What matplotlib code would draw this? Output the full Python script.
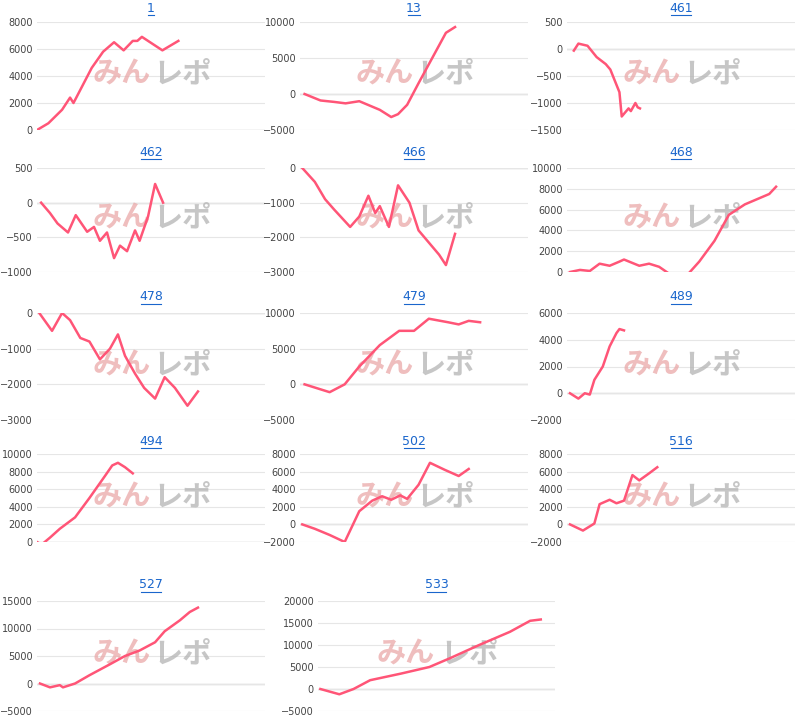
import matplotlib.pyplot as plt
from matplotlib.lines import Line2D

plt.rcParams['font.family'] = ['DejaVu Sans']

W, H = 800, 722

# (title, x as % of plot width, profit values, y ticks)
names = ["1", "13", "461", "462", "466", "468", "478", "479", "489", "494", "502", "516", "527", "533"]

x_1 = [0, 5, 11, 14.5, 16, 20, 24, 29, 33.8, 38, 42, 44, 46, 55, 62]
y_1 = [0, 500, 1500, 2400, 2000, 3300, 4600, 5800, 6500, 5900, 6600, 6600, 6900, 5900, 6600]
x_13 = [2, 9, 15, 20, 26, 35, 40, 43, 47, 52, 58, 64, 68]
y_13 = [0, -900, -1100, -1300, -1000, -2200, -3200, -2800, -1500, 1500, 5000, 8500, 9300]
x_461 = [3, 5, 7, 9, 13, 17, 19, 23, 24, 27, 28, 30, 31, 32]
y_461 = [-30, 100, 80, 60, -150, -280, -380, -800, -1250, -1100, -1150, -1000, -1080, -1100]
x_462 = [1.8, 5.7, 9, 13.6, 17, 22, 25, 27.6, 30.7, 33.8, 36.4, 39.5, 43, 45, 48.7, 51.8, 55.3]
y_462 = [0, -150, -300, -430, -180, -420, -350, -550, -430, -800, -620, -700, -400, -550, -200, 270, 0]
x_466 = [1, 6.5, 11, 15, 22, 26, 30, 33, 35, 39, 43, 48, 52, 61, 64, 68]
y_466 = [0, -400, -900, -1200, -1700, -1400, -800, -1300, -1100, -1700, -500, -1000, -1800, -2500, -2800, -1900]
x_468 = [1.3, 5.7, 10, 14.3, 18.7, 23, 25, 31.7, 36, 40.4, 49, 53.5, 58, 64.7, 71, 78, 88.7, 91.7]
y_468 = [0, 200, 100, 800, 600, 1000, 1200, 600, 800, 500, -800, -100, 1000, 3000, 5500, 6500, 7500, 8200]
x_478 = [1, 6.6, 11, 14.5, 19, 23, 27.6, 32, 35.5, 38.6, 43, 47, 51.8, 56, 60.5, 62.7, 66, 70.6]
y_478 = [0, -500, 0, -200, -700, -800, -1300, -1000, -600, -1200, -1700, -2100, -2400, -1800, -2100, -2300, -2600, -2200]
x_479 = [2, 13, 19.6, 26, 35, 43.5, 50, 56.5, 65, 69.6, 74, 79]
y_479 = [0, -1100, 0, 2500, 5500, 7500, 7500, 9200, 8700, 8400, 8900, 8700]
x_489 = [1.3, 5, 7.8, 10, 12, 15.7, 18.7, 21.7, 23, 25]
y_489 = [0, -400, 0, -100, 1000, 2000, 3500, 4500, 4800, 4700]
x_494 = [0, 2, 5.7, 10, 16.7, 23, 29.8, 33, 35.5, 38.6, 42]
y_494 = [0, -300, 500, 1500, 2800, 5000, 7500, 8700, 9000, 8500, 7800]
x_502 = [1, 6.5, 13, 19.6, 26, 31.7, 36, 40, 44, 47, 52, 57, 63.5, 69.6, 74]
y_502 = [0, -500, -1200, -2000, 1500, 2700, 3200, 2800, 3300, 2900, 4500, 7000, 6200, 5500, 6300]
x_516 = [1.3, 7, 12, 14.3, 18.7, 21.7, 25, 28.7, 31.7, 36, 39.6]
y_516 = [0, -700, 100, 2300, 2800, 2400, 2700, 5600, 5000, 5800, 6500]
x_527 = [1.3, 5.7, 10, 11.4, 16.7, 23, 32, 38.6, 45, 51.8, 56, 62.7, 67, 70.6]
y_527 = [0, -700, -300, -700, 0, 1500, 3500, 5000, 6000, 7500, 9500, 11500, 13000, 13800]
x_533 = [1, 9, 15, 22, 35, 47, 55.7, 68, 81, 89.5, 94]
y_533 = [0, -1200, 0, 2000, 3500, 5000, 7000, 10000, 13000, 15500, 15800]

xs = [x_1, x_13, x_461, x_462, x_466, x_468, x_478, x_479, x_489, x_494, x_502, x_516, x_527, x_533]
ys = [y_1, y_13, y_461, y_462, y_466, y_468, y_478, y_479, y_489, y_494, y_502, y_516, y_527, y_533]
yticks = [
    [0, 2000, 4000, 6000, 8000], [-5000, 0, 5000, 10000], [-1500, -1000, -500, 0, 500],
    [-1000, -500, 0, 500], [-3000, -2000, -1000, 0], [0, 2000, 4000, 6000, 8000, 10000],
    [-3000, -2000, -1000, 0], [-5000, 0, 5000, 10000], [-2000, 0, 2000, 4000, 6000],
    [0, 2000, 4000, 6000, 8000, 10000], [-2000, 0, 2000, 4000, 6000, 8000], [-2000, 0, 2000, 4000, 6000, 8000],
    [-5000, 0, 5000, 10000, 15000], [-5000, 0, 5000, 10000, 15000, 20000],
]

row_top = [22, 168, 313, 454, 601]
row_h = [108, 104, 107, 88, 110]
title_y = [8, 152, 297, 441, 585]
col_left = [37, 300, 567]
col_w = 228

fig = plt.figure(figsize=(W / 100, H / 100), dpi=100)

for i, name in enumerate(names):
    r, c = divmod(i, 3)
    left, w = col_left[c], col_w
    if r == 4 and c == 1:
        left, w = 318, 237
    top = row_top[r]
    h = row_h[r]
    ax = fig.add_axes([left / W, 1 - (top + h) / H, w / W, h / H])
    ax.set_xlim(0, 100)
    t = yticks[i]
    ax.set_ylim(t[0], t[-1])
    ax.set_yticks(t)
    ax.set_xticks([])
    ax.tick_params(axis='y', length=0, labelsize=7, labelcolor='#444444', pad=3)
    for s in ax.spines.values():
        s.set_visible(False)
    ax.grid(axis='y', color='#e6e6e6', lw=0.8)
    ax.axhline(0, color='#cccccc', lw=1, zorder=1)
    # watermark
    ax.text(0.37, 0.52, "みん", transform=ax.transAxes, fontsize=21, fontweight='bold',
            style='italic', color='#eaa8a8', alpha=0.75, ha='center', va='center',
            family=['Noto Sans CJK JP', 'DejaVu Sans'], zorder=2)
    ax.text(0.64, 0.52, "レポ", transform=ax.transAxes, fontsize=21, fontweight='bold',
            style='italic', color='#b4b4b4', alpha=0.75, ha='center', va='center',
            family=['Noto Sans CJK JP', 'DejaVu Sans'], zorder=2)
    ax.plot(xs[i], ys[i], color='#ff5577', lw=1.8, zorder=3)
    cx = left + w / 2
    fig.text(cx / W, 1 - title_y[r] / H, name, ha='center', va='center', fontsize=9, color='#1a66cc')
    half = len(name) * 3.2
    fig.add_artist(Line2D([(cx - half) / W, (cx + half) / W], [1 - (title_y[r] + 7) / H] * 2,
                          color='#1a66cc', lw=0.8))

fig.savefig('out.png', dpi=100)
